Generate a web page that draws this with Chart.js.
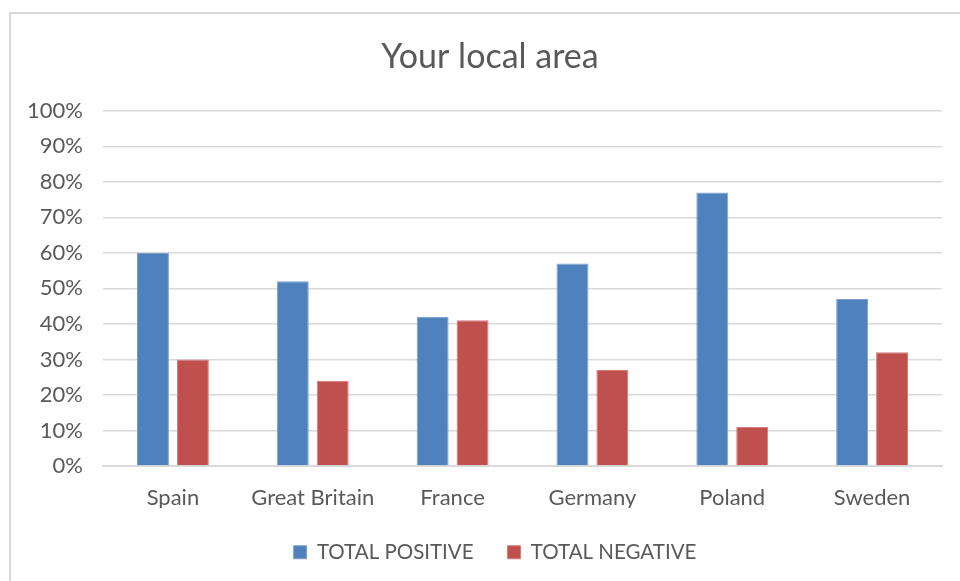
<!DOCTYPE html>
<html>
<head>
<meta charset="utf-8">
<script src="https://cdn.jsdelivr.net/npm/chart.js@4.4.1/dist/chart.umd.min.js"></script>
<style>
    html, body { margin: 0; padding: 0; background: #ffffff; overflow: hidden; }
    #frame { position: absolute; left: 9px; top: 12px; width: 1000px; height: 1000px; border: 2px solid #d9d9d9; }
    #wrap { position: absolute; left: 0; top: 0; width: 960px; height: 581px; }
</style>
</head>
<body>
<div id="frame"></div>
<div id="wrap"><canvas id="localChart"></canvas></div>
<script>
// chart values (percent)
const countries = ['Spain', 'Great Britain', 'France', 'Germany', 'Poland', 'Sweden'];
const totalPositive = [60, 52, 42, 57, 77, 47];
const totalNegative = [30, 24, 41, 27, 11, 32];
const seriesNames = ['TOTAL POSITIVE', 'TOTAL NEGATIVE'];

const textGrey = '#595959';
const fontName = 'Lato, "Open Sans", sans-serif';

// legend: wide item spacing but short box; title + legend centred on the frame, not the canvas
const boxTweaks = {
    id: 'boxTweaks',
    beforeLayout: function (chart) {
        const lg = chart.legend;
        if (lg && !lg._patched) {
            const origFit = lg.fit;
            lg.fit = function () {
                origFit.call(this);
                this.height = 63;
            };
            lg._patched = true;
        }
    },
    afterLayout: function (chart) {
        if (chart.titleBlock) chart.titleBlock.left = 38;
        if (chart.legend) chart.legend.left = 48;
    }
};

const ctx = document.getElementById('localChart');
new Chart(ctx, {
    type: 'bar',
    data: {
        labels: countries,
        datasets: [{
            label: seriesNames[0],
            data: totalPositive,
            backgroundColor: '#4f81bd',
            borderColor: '#7ba0d0',
            borderWidth: 1,
            categoryPercentage: 0.571,
            barPercentage: 0.8
        },
        {
            label: seriesNames[1],
            data: totalNegative,
            backgroundColor: '#c0504d',
            borderColor: '#d27c79',
            borderWidth: 1,
            categoryPercentage: 0.571,
            barPercentage: 0.8
        }]
    },
    options: {
        responsive: true,
        maintainAspectRatio: false,
        animation: false,
        layout: { padding: { left: 0, right: 18, top: 0, bottom: 10 } },
        plugins: {
            title: {
                display: true,
                text: 'Your local area',
                color: textGrey,
                font: { family: fontName, size: 34, weight: 'normal' },
                padding: { top: 37, bottom: 33 }
            },
            legend: {
                position: 'bottom',
                labels: {
                    color: textGrey,
                    font: { family: fontName, size: 20.5 },
                    boxWidth: 13,
                    boxHeight: 13,
                    padding: 34
                }
            },
            tooltip: { enabled: false }
        },
        scales: {
            x: {
                grid: { display: false, drawTicks: false },
                border: { color: '#d9d9d9', width: 2 },
                ticks: { color: textGrey, font: { family: fontName, size: 22 }, padding: 19 },
                afterFit: function (scale) { scale.height = 42; }
            },
            y: {
                min: 0,
                max: 100,
                ticks: {
                    stepSize: 10,
                    color: textGrey,
                    font: { family: fontName, size: 22 },
                    padding: 20,
                    callback: function (v) { return v + '%'; }
                },
                grid: { color: '#d9d9d9', lineWidth: 1.5, drawTicks: false },
                border: { display: false },
                afterFit: function (scale) { scale.width = 103; }
            }
        }
    },
    plugins: [boxTweaks]
});
</script>
</body>
</html>
